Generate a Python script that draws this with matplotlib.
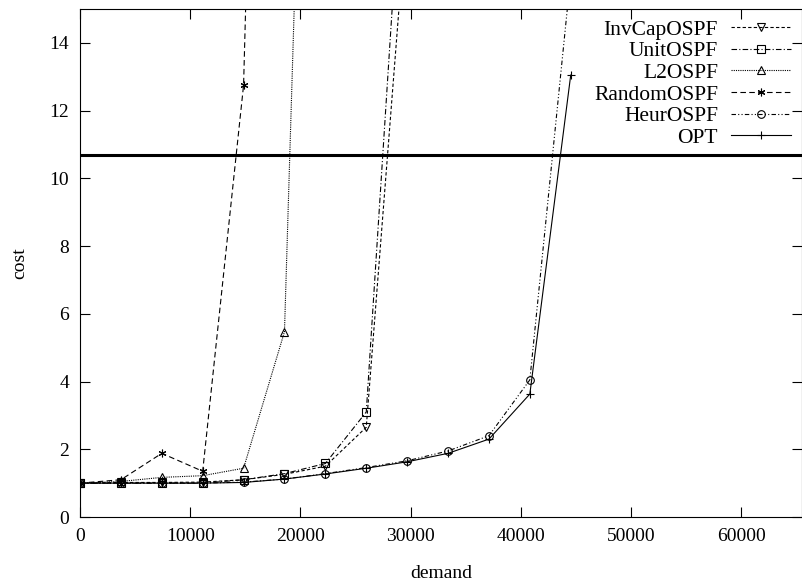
import matplotlib
matplotlib.use('Agg')
import matplotlib.pyplot as plt

# demand values at which each scheme was evaluated
demand = [0, 3712, 7424, 11136, 14848, 18560, 22272, 25984, 29696,
          33408, 37120, 40832, 44544]

invcap = [1.0, 1.02, 1.02, 1.03, 1.1, 1.26, 1.5, 2.65, 18.1]
unit = [1.0, 1.0, 1.0, 1.0, 1.1, 1.28, 1.58, 3.1, 21.9]
l2 = [1.0, 1.05, 1.17, 1.22, 1.44, 5.47, 45.6]
random_ospf = [1.0, 1.1, 1.88, 1.35, 12.75, 58.0]
heur = [1.0, 1.0, 1.0, 1.0, 1.03, 1.12, 1.28, 1.46, 1.66, 1.95, 2.4, 4.05, 16.0]
opt = [1.0, 1.0, 1.0, 1.0, 1.02, 1.12, 1.27, 1.44, 1.63, 1.88, 2.3, 3.63, 13.05]

threshold = 10.7

plt.rcParams['font.family'] = ['Liberation Serif', 'DejaVu Serif']

fig = plt.figure(figsize=(8.03, 5.83), dpi=100)
ax = fig.add_axes([80 / 803, 66 / 583, 722 / 803, 508 / 583])

common = dict(color='black', linewidth=0.8, markersize=5.5,
              markerfacecolor='none', markeredgewidth=0.8)
ax.plot(demand[:len(invcap)], invcap, marker='v', linestyle=(0, (3, 2)),
        label='InvCapOSPF', **common)
ax.plot(demand[:len(unit)], unit, marker='s', linestyle=(0, (5, 2, 1, 2)),
        label='UnitOSPF', **common)
ax.plot(demand[:len(l2)], l2, marker='^', linestyle=(0, (1, 1)),
        label='L2OSPF', **common)
ax.plot(demand[:len(random_ospf)], random_ospf, marker=(6, 2, 0),
        linestyle=(0, (5, 3)), label='RandomOSPF', **common)
ax.plot(demand[:len(heur)], heur, marker='o', linestyle=(0, (4, 2, 1, 2, 1, 2)),
        label='HeurOSPF', **common)
ax.plot(demand[:len(opt)], opt, marker='+', linestyle='-',
        label='OPT', **common)

ax.axhline(threshold, color='black', linewidth=2.2)

ax.set_xlim(0, 65536)
ax.set_ylim(0, 15)
ax.set_xticks(range(0, 60001, 10000))
ax.set_yticks(range(0, 15, 2))
ax.tick_params(direction='in', length=7, width=0.8, top=True, right=True,
               labelsize=14, pad=8)
for s in ax.spines.values():
    s.set_linewidth(0.8)

ax.set_xlabel('demand', fontsize=14, labelpad=14)
ax.set_ylabel('cost', fontsize=14, labelpad=15)

ax.legend(loc='upper right', frameon=False, markerfirst=False,
          handlelength=2.8, handletextpad=0.6, labelspacing=0.07,
          borderaxespad=0.1, fontsize=15.5)

fig.savefig('out.png', dpi=100)
plt.close(fig)
